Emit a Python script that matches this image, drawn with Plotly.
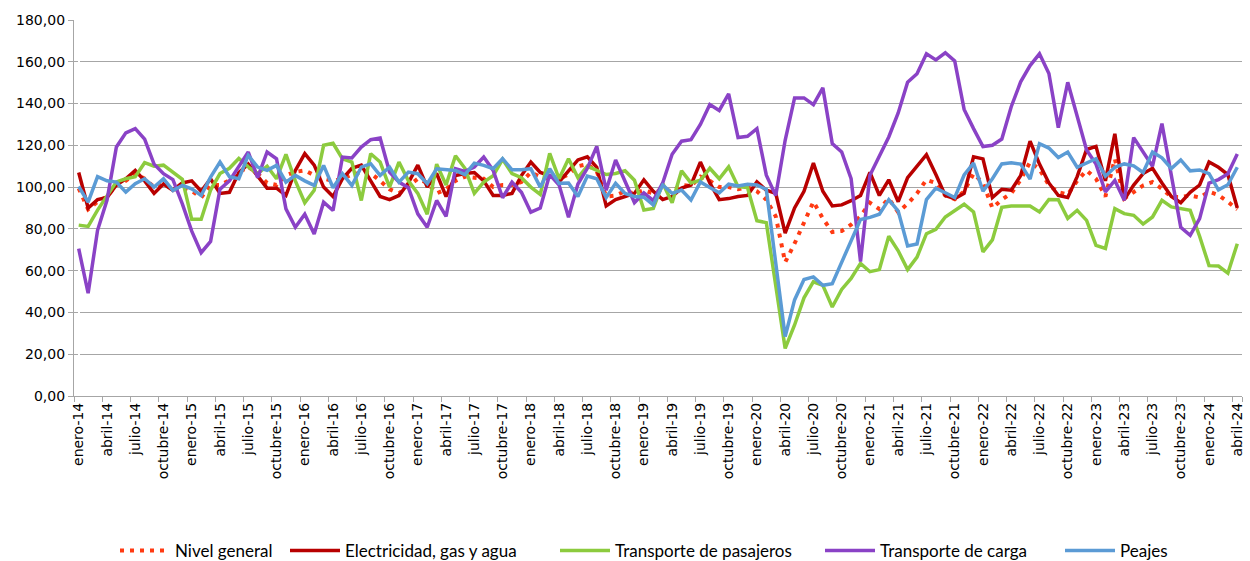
import plotly.graph_objects as go

meses = ["enero", "febrero", "marzo", "abril", "mayo", "junio", "julio", "agosto",
         "septiembre", "octubre", "noviembre", "diciembre"]
periodos = [f"{meses[m]}-{a:02d}" for a in range(14, 25) for m in range(12)][:124]

nivel_general = [
    99.4, 89.4, 93, 95.4, 101, 103, 106.5, 104, 100, 102, 98.6, 100,
    98.2, 95, 101, 101, 103.3, 107, 109.7, 106.5, 102, 101, 105.7, 107.3,
    108, 105.7, 104, 103, 104, 106, 107, 106.7, 103, 99, 97, 100.5,
    104, 102, 97, 99, 103, 105, 104.5, 104, 100, 101, 101, 102.5,
    107, 105, 104, 104, 106, 110, 111, 107.5, 95.5, 96, 98, 97,
    98.5, 97, 99, 98, 101, 100.5, 105, 103, 100, 100, 99, 100,
    98, 94, 86, 64, 73, 83.5, 93, 85, 78.5, 79, 82, 86,
    92.5, 89.5, 94.5, 88, 92, 97, 103.5, 102, 96, 94.2, 98, 106.5,
    102, 90, 94, 97, 103.5, 112, 108.5, 101, 97.5, 96.5, 103, 108,
    104, 95.5, 113.5, 94.5, 97.8, 100.8, 102.4, 99.2, 95.3, 95.2, 96, 95,
    97.8, 96.2, 93, 89.3]

electricidad = [
    107, 90, 94, 95, 101, 104, 108, 103, 97, 101.5, 98.5, 102,
    103, 98, 104, 97, 97.5, 107, 111, 105.5, 99.5, 99.5, 96, 108,
    116, 110.5, 100, 95.5, 104, 109, 110.5, 103, 95.5, 94, 96, 102,
    110.5, 100, 106.5, 95.5, 105.5, 106.5, 107, 103, 96, 96, 97, 105.5,
    112, 107, 105.5, 102.5, 108, 113, 114.5, 109.5, 91, 94, 95.5, 97,
    103.5, 98, 94, 95.5, 99.5, 101, 112, 102, 94, 94.5, 95.5, 96,
    102.5, 98.5, 97, 78, 90, 98, 111.5, 98, 91, 91.5, 93.5, 96,
    107, 96, 103.5, 93, 104.5, 110, 115.5, 106, 96, 94.5, 97, 114.5,
    113.5, 95, 99, 98.5, 105.5, 122, 111, 102, 96, 95, 105, 118,
    119.5, 103, 125.5, 94, 101, 106.5, 109, 102, 95.5, 92.5, 97.5, 101,
    112, 109.5, 106, 90]

pasajeros = [
    81.8, 81.2, 89, 95.4, 102.5, 104, 105, 111.7, 110, 110.5, 107.3, 103.7,
    84.6, 84.6, 98.6, 106.5, 109, 113.7, 109.7, 106.5, 110, 104, 115.7, 103,
    92.5, 98.5, 120, 121, 113.6, 112, 93.6, 116, 112, 100, 112, 103,
    97, 87, 111, 101, 115, 109, 97, 102.4, 105.4, 113.3, 106.5, 104.5,
    100, 96.5, 116.2, 104, 113.6, 104.5, 110, 108, 106, 106.5, 107.8, 103.3,
    89, 89.8, 101.8, 92.5, 107.8, 102, 103.3, 109, 104, 109.7, 100.2, 99.8,
    83.9, 83, 53, 22.8, 34, 47, 54.7, 53, 42.6, 51, 56.3, 63.5,
    59.5, 60.5, 76.5, 69.5, 60.5, 66.5, 77.7, 79.8, 85.7, 88.9, 91.8, 88.1,
    69, 74.7, 90.3, 91, 91, 91, 88.1, 94.1, 94, 85, 88.9, 84.1,
    72.1, 70.6, 89.7, 87.3, 86.5, 82.3, 85.7, 93.7, 90.5, 89.7, 88.9, 76.5,
    62.4, 62.2, 58.8, 72.9]

carga = [
    70.5, 49.2, 79.3, 93.7, 119.2, 126, 128, 123, 111, 106.4, 103.6, 92,
    78.9, 68.6, 74, 99, 103, 109.6, 116.8, 104.5, 116.8, 113.6, 89.6, 80.8,
    87, 77.6, 92.8, 88.8, 114.4, 114, 119.2, 122.7, 123.5, 107.2, 102.4, 99.7,
    87.2, 80.8, 93.6, 86, 108.8, 107.5, 109.6, 114.4, 108, 94.9, 102.4, 97.5,
    88, 90, 106, 101, 85.6, 101.5, 109, 119.5, 98.5, 113, 103.2, 92.6,
    97.2, 93.5, 102, 115.7, 122, 122.7, 130, 139.5, 136.7, 144.6, 123.7, 124.3,
    128, 105.7, 96, 122.4, 142.7, 142.7, 139.5, 147.5, 120.8, 116.8, 104, 64.4,
    105.7, 114.4, 124, 135.5, 150.2, 154.3, 163.8, 160.9, 164.3, 160.4, 137.2, 128,
    119.4, 120, 123, 138.5, 150.4, 158.2, 163.8, 154.4, 128.5, 150.2, 134.4, 117.8,
    111, 97.7, 103.2, 93.7, 123.7, 116.8, 110, 130.4, 105.6, 80.7, 76.9, 84.9,
    101.9, 103.6, 106.4, 115.9]

peajes = [
    100.3, 92.8, 105, 103, 102.4, 97.6, 101.6, 104, 100, 104, 98.4, 100.8,
    99.2, 96, 104.8, 112, 105, 104, 115.2, 109.6, 108, 110.4, 102.4, 105.6,
    103, 100.8, 110.4, 99.7, 106.4, 100.8, 109.6, 111.2, 105.6, 109.6, 102.4, 107.2,
    106.4, 101.6, 108.8, 108.3, 108, 106, 111.5, 110.4, 108.8, 113.6, 108.3, 108.3,
    108.8, 100, 108.8, 101.8, 102, 95.5, 105.3, 104, 95, 101.8, 97, 95.5,
    95.2, 91.5, 101, 97, 98.6, 93.8, 102.5, 99.8, 97.3, 101.4, 100.5, 101.4,
    101, 98.9, 64, 28.5, 46, 55.8, 57, 53, 53.8, 64.2, 74.6, 84.5,
    85.5, 87, 94, 88.5, 71.8, 72.8, 94, 99.5, 97.3, 95, 105.8, 111.5,
    98, 104, 111.1, 111.6, 111, 103.8, 120.8, 118.7, 114.2, 116.8, 109.5, 111.7,
    113.6, 105.2, 109.5, 111.1, 110.2, 107, 116.8, 114, 108.9, 113, 107.8, 108.2,
    106.4, 98.7, 101.1, 109.5]

series = [
    ("Nivel general", nivel_general, "#FF3A12", "4px,6px", 4, 105),
    ("Electricidad, gas y agua", electricidad, "#B80000", "solid", 3.5, 205),
    ("Transporte de pasajeros", pasajeros, "#8CCB3E", "solid", 3.5, 200),
    ("Transporte de carga", carga, "#8A42C6", "solid", 3.5, 175),
    ("Peajes", peajes, "#5B9BD5", "solid", 3.5, 60),
]

idx = list(range(len(periodos)))
fig = go.Figure()
for nombre, vals, color, dash, w, lw in series:
    fig.add_trace(go.Scatter(
        x=idx, y=vals, name=nombre, mode="lines",
        line=dict(color=color, width=w, dash=dash),
        legendwidth=lw,
    ))

tick_idx = idx[::3]
fig.update_layout(
    width=1250, height=561,
    margin=dict(l=74, r=8, t=20, b=165, autoexpand=False),
    paper_bgcolor="white", plot_bgcolor="white",
    separators=",.",
    font=dict(family="Lato, Open Sans, sans-serif", color="#000000"),
    showlegend=True,
    legend=dict(orientation="h", x=(115 - 74) / 1168, xanchor="left",
                y=(396 - 551) / 376, yanchor="middle",
                font=dict(size=17), itemwidth=50, traceorder="normal"),
)
fig.update_xaxes(
    range=[-0.5, 123.5], automargin=False,
    tickmode="array", tickvals=tick_idx, ticktext=[periodos[i] for i in tick_idx],
    tickangle=-90, tickfont=dict(size=14, family="DejaVu Sans"),
    ticks="", showgrid=False,
    showline=True, linecolor="#a6a6a6", linewidth=1.3,
    minor=dict(tickmode="array", tickvals=[i - 0.5 for i in tick_idx] + [123.5],
               ticks="outside", ticklen=5, tickcolor="#a6a6a6", tickwidth=1.3, showgrid=False),
)
fig.update_yaxes(
    range=[0, 180], dtick=20, tickformat=".2f", automargin=False,
    tickfont=dict(size=14, family="DejaVu Sans"),
    showgrid=True, gridcolor="#a6a6a6", gridwidth=1.3,
    showline=True, linecolor="#a6a6a6", linewidth=1.3,
    ticks="outside", ticklen=5, tickcolor="#a6a6a6", tickwidth=1.3,
    zeroline=False,
)
fig.write_html(
    "out.html",
    config={"displayModeBar": False},
    post_script="document.body.style.margin='0px'; document.body.style.overflow='hidden';",
)
